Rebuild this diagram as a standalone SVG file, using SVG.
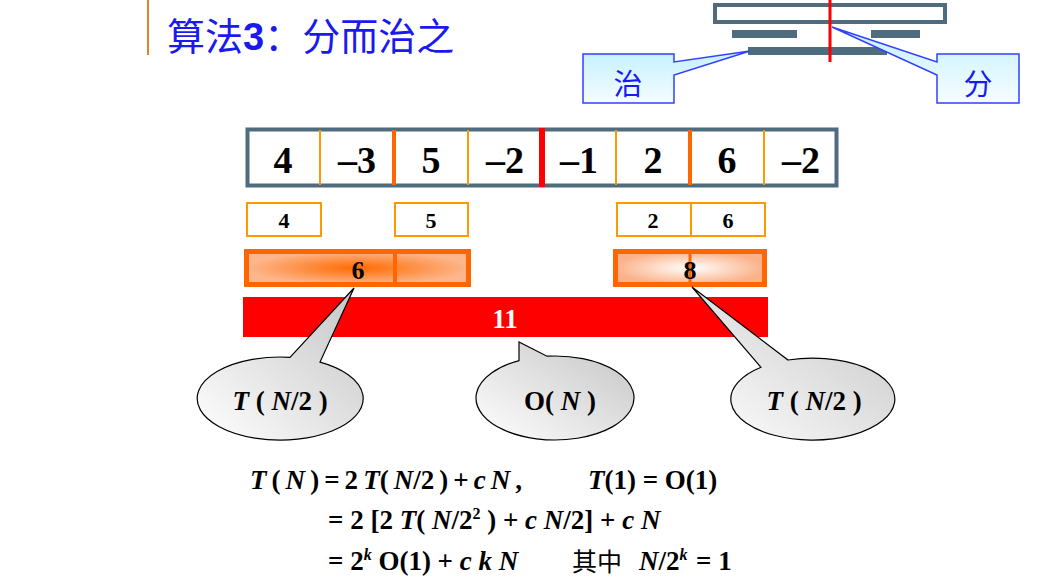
<svg xmlns="http://www.w3.org/2000/svg" width="1052" height="585" viewBox="0 0 1052 585">
<style>
.num{font-family:"Liberation Serif","Times New Roman",serif;font-weight:bold;font-size:38px;text-anchor:middle;fill:#000}
.sm{font-size:22px}
.mid{font-size:26px}
.f{font-family:"Liberation Serif","Times New Roman",serif;font-weight:bold;font-size:27px;fill:#000}
.i{font-style:italic}
.cjk{font-family:"Noto Sans CJK SC",sans-serif;font-weight:normal}
.slate{fill:#4F6B7E}
.thin{stroke:#FF9900;stroke-width:2}
.thick{stroke:#FF6600;stroke-width:4}
.bub{fill:url(#bub);stroke:#000;stroke-width:1.2}
.call{fill:url(#cyan);stroke:#3040FF;stroke-width:1.5}
.blue{font-family:"Noto Sans CJK SC",sans-serif;fill:#1a1aF0}
</style>
<defs>
<linearGradient id="bub" x1="0" y1="1" x2="1" y2="0">
<stop offset="0" stop-color="#FFFFFF"/>
<stop offset="1" stop-color="#C4C4C4"/>
</linearGradient>
<linearGradient id="cyan" x1="0" y1="0" x2="0" y2="1">
<stop offset="0" stop-color="#C4F0FF"/>
<stop offset="1" stop-color="#F6FDFF"/>
</linearGradient>
<radialGradient id="og1" cx="0.5" cy="0.5" r="0.5">
<stop offset="0" stop-color="#FF6A00"/>
<stop offset="1" stop-color="#FDB68C"/>
</radialGradient>
<radialGradient id="og2" cx="0.5" cy="0.5" r="0.5">
<stop offset="0" stop-color="#FFFFFF"/>
<stop offset="1" stop-color="#FBB28A"/>
</radialGradient>
</defs>
<rect width="1052" height="585" fill="#FFFFFF"/>

<g id="title">
<line x1="148" y1="0" x2="148" y2="55" stroke="#E0862A" stroke-width="2"/>
<text x="167" y="50" class="blue" font-size="38">算法<tspan font-family="Liberation Sans,Arial,sans-serif" font-weight="bold">3</tspan>：分而治之</text>
</g>

<g id="top-diagram">
<rect x="715" y="5" width="230" height="17" fill="none" stroke="#4F6B7E" stroke-width="4"/>
<rect class="slate" x="732" y="30" width="65" height="8"/>
<rect class="slate" x="871" y="30" width="49" height="8"/>
<rect class="slate" x="748" y="47" width="139" height="8"/>
<line x1="830" y1="0" x2="830" y2="62" stroke="#FF0000" stroke-width="3"/>
</g>

<g id="callout-zhi">
<path class="call" d="M583 54 H674 V62 L750 51 L674 75 V103 H583 Z"/>
<text x="628" y="95" class="blue" font-size="29" text-anchor="middle">治</text>
</g>
<g id="callout-fen">
<path class="call" d="M1019 54 H937 V62 L832 27 L937 75 V103 H1019 Z"/>
<text x="978" y="95" class="blue" font-size="29" text-anchor="middle">分</text>
</g>

<g id="array">
<rect x="247.5" y="129.5" width="589" height="56" fill="#FFFFFF" stroke="#4F6B7E" stroke-width="4"/>
<line class="thin" x1="320" y1="130" x2="320" y2="185"/>
<line class="thin" x1="468" y1="130" x2="468" y2="185"/>
<line class="thin" x1="616" y1="130" x2="616" y2="185"/>
<line class="thin" x1="764" y1="130" x2="764" y2="185"/>
<line class="thick" x1="394" y1="130" x2="394" y2="185"/>
<line class="thick" x1="690" y1="130" x2="690" y2="185"/>
<line x1="542" y1="128" x2="542" y2="187" stroke="#FF0000" stroke-width="6"/>
<text class="num" x="283" y="173">4</text>
<text class="num" x="357" y="173">–3</text>
<text class="num" x="431" y="173">5</text>
<text class="num" x="505" y="173">–2</text>
<text class="num" x="579" y="173">–1</text>
<text class="num" x="653" y="173">2</text>
<text class="num" x="727" y="173">6</text>
<text class="num" x="801" y="173">–2</text>
</g>

<g id="pairs">
<rect class="thin" x="247" y="203" width="74" height="33" fill="#FFFFFF"/>
<rect class="thin" x="395" y="203" width="73" height="33" fill="#FFFFFF"/>
<rect class="thin" x="617" y="203" width="148" height="33" fill="#FFFFFF"/>
<line class="thin" x1="691" y1="203" x2="691" y2="236"/>
<text class="num sm" x="284" y="228">4</text>
<text class="num sm" x="431" y="228">5</text>
<text class="num sm" x="653" y="228">2</text>
<text class="num sm" x="728" y="228">6</text>
</g>

<g id="sum-left">
<rect x="246.5" y="251.5" width="222" height="33" fill="url(#og1)" stroke="#FF6600" stroke-width="5"/>
<line x1="395" y1="251" x2="395" y2="285" stroke="#FF6600" stroke-width="4"/>
<text class="num mid" x="358" y="279">6</text>
</g>
<g id="sum-right">
<rect x="615.5" y="251.5" width="149" height="33" fill="url(#og2)" stroke="#FF6600" stroke-width="5"/>
<line x1="690" y1="251" x2="690" y2="285" stroke="#FF6600" stroke-width="3"/>
<text class="num mid" x="690" y="279">8</text>
</g>

<g id="total">
<rect x="243" y="297" width="525" height="40" fill="#FF0000"/>
<text class="num" x="505" y="328" style="fill:#FFFFFF;font-size:27px">11</text>
</g>

<g id="connectors">
</g>

<g id="bubble-left">
<path class="bub" d="M290 357.3 L354 288 L320 362.1 A83 41.5 0 1 1 290 357.3 Z"/>
<text class="f" x="280" y="410" text-anchor="middle" font-size="30"><tspan class="i">T</tspan> ( <tspan class="i">N</tspan>/2 )</text>
</g>
<g id="bubble-mid">
<path class="bub" d="M519 360.6 L519 342 L547 356.2 A79 42 0 1 1 519 360.6 Z"/>
<text class="f" x="560" y="410" text-anchor="middle" font-size="30">O( <tspan class="i">N</tspan> )</text>
</g>
<g id="bubble-right">
<path class="bub" d="M761 367.3 L692 287 L788 360 A82 41 0 1 1 761 367.3 Z"/>
<text class="f" x="814" y="410" text-anchor="middle" font-size="30"><tspan class="i">T</tspan> ( <tspan class="i">N</tspan>/2 )</text>
</g>

<g id="formula">
<text class="f" x="250" y="489" word-spacing="-1.7"><tspan class="i">T</tspan> ( <tspan class="i">N</tspan> ) = 2 <tspan class="i">T</tspan>( <tspan class="i">N</tspan>/2 ) + <tspan class="i">c</tspan> <tspan class="i">N</tspan> ,</text>
<text class="f" x="588" y="489"><tspan class="i">T</tspan>(1) = O(1)</text>
<text class="f" x="328" y="529">= 2 [2 <tspan class="i">T</tspan>( <tspan class="i">N</tspan>/2<tspan font-size="16" dy="-10">2</tspan><tspan dy="10"> ) + </tspan><tspan class="i">c</tspan> <tspan class="i">N</tspan>/2] + <tspan class="i">c</tspan> <tspan class="i">N</tspan></text>
<text class="f" x="328" y="570">= 2<tspan class="i" font-size="16" dy="-10">k</tspan><tspan dy="10"> O(1) + </tspan><tspan class="i">c</tspan> <tspan class="i">k</tspan> <tspan class="i">N</tspan></text>
<text class="f cjk" x="572" y="571" style="font-size:25px">其中</text>
<text class="f" x="639" y="570"><tspan class="i">N</tspan>/2<tspan class="i" font-size="16" dy="-10">k</tspan></text>
<text class="f" x="696" y="570">= 1</text>
</g>
</svg>
